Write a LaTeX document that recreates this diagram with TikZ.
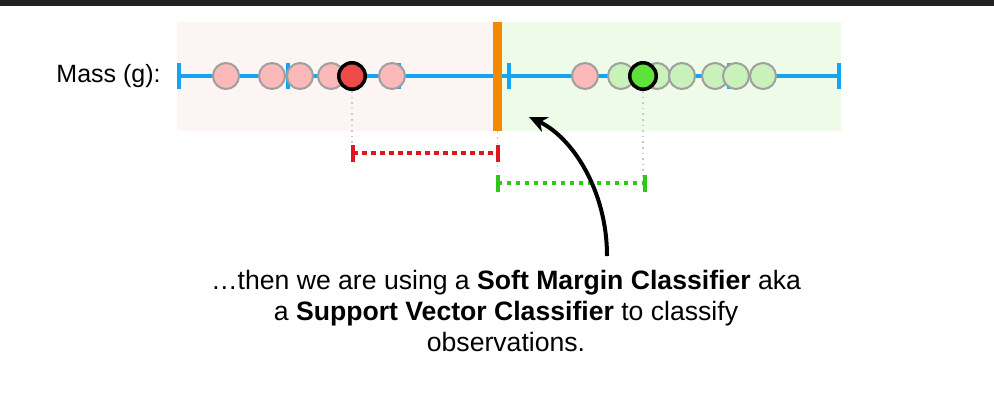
\documentclass[tikz,border=0pt]{standalone}
\usepackage{fontspec}
\setmainfont{Liberation Sans}
\usepackage{tikz}
\usetikzlibrary{arrows.meta, positioning}

\definecolor{topbar}{HTML}{222222}
\definecolor{bgpink}{HTML}{FDF4F4}
\definecolor{bggreen}{HTML}{EEFBE8}
\definecolor{axisblue}{HTML}{14A4F2}
\definecolor{barorange}{HTML}{F28A00}
\definecolor{dotpink}{HTML}{FBB9B9}
\definecolor{dotgreen}{HTML}{C9F1BA}
\definecolor{supred}{HTML}{EF4A4A}
\definecolor{supgreen}{HTML}{5EE23A}
\definecolor{marginred}{HTML}{DD1622}
\definecolor{margingreen}{HTML}{2EC71A}

\begin{document}
\begin{tikzpicture}[x=0.5pt, y=-0.5pt,
    obs/.style={circle, draw=gray!75, line width=1pt, minimum size=13pt, inner sep=0pt},
    pinkobs/.style={obs, fill=dotpink},
    greenobs/.style={obs, fill=dotgreen},
    supobs/.style={circle, draw=black, line width=1.75pt, minimum size=13.25pt, inner sep=0pt},
    axistick/.style={draw=axisblue, line width=1.7pt},
    guide/.style={draw=black!22, line width=0.8pt, dotted},
    margin/.style={line width=2pt, dash pattern=on 2.25pt off 2.25pt},
    marginend/.style={line width=2pt},
    callout/.style={-{Stealth[length=9pt, width=8pt]}, line width=2pt},
]
  \useasboundingbox (0,0) rectangle (994,413);
  \fill[topbar] (0,0) rectangle (994,6);

  % the two classes
  \fill[bgpink] (177,22) rectangle (497,131);
  \fill[bggreen] (497,22) rectangle (841,131);

  % number line
  \coordinate (lo) at (179,76);
  \coordinate (hi) at (839,76);
  \draw[axisblue, line width=1.8pt] (lo) -- (hi);
  \draw[axistick] (179,63) -- (179,89);
  \draw[axistick] (288,63) -- (288,89);
  \draw[axistick] (399,63) -- (399,89);
  \draw[axistick] (509,63) -- (509,89);
  \draw[axistick] (729,63) -- (729,89);
  \draw[axistick] (839,63) -- (839,89);

  \node[fill=barorange, minimum width=4.5pt, minimum height=54.5pt, inner sep=0pt] (thr) at (497.5,76.5) {};

  \node[pinkobs] (p1) at (226,76) {};
  \node[pinkobs] (p2) at (272,76) {};
  \node[pinkobs] (p3) at (300,76) {};
  \node[pinkobs] (p4) at (331,76) {};
  \node[pinkobs] (p5) at (392,76) {};
  \node[supobs, fill=supred] (rsup) at (352,76) {};

  \node[pinkobs] (p6) at (585,76) {};
  \node[greenobs] (g1) at (621,76) {};
  \node[greenobs] (g2) at (657,76) {};
  \node[greenobs] (g3) at (682,76) {};
  \node[greenobs] (g4) at (715,76) {};
  \node[greenobs] (g5) at (736,76) {};
  \node[greenobs] (g6) at (763,76) {};
  \node[supobs, fill=supgreen] (gsup) at (643,76) {};

  \node[font=\fontsize{12.5}{15}\selectfont, anchor=base east, inner sep=0pt] (mass) at (161,82) {Mass (g):};

  % margins
  \coordinate (rl) at (353,153);
  \coordinate (rr) at (497.5,153);
  \coordinate (gl) at (497.5,183);
  \coordinate (gr) at (645,183);

  \draw[guide] (rsup.south) -- (rsup.south |- rl);
  \draw[guide] (thr.south) -- (thr.south |- gl);
  \draw[guide] (gsup.south) -- (gsup.south |- gr);

  \draw[marginred, margin] (rl) -- (rr);
  \draw[marginred, marginend] ([shift={(0,-8.5)}]rl) -- ([shift={(0,8.5)}]rl);
  \draw[marginred, marginend] ([shift={(0,-8.5)}]rr) -- ([shift={(0,8.5)}]rr);
  \draw[margingreen, margin] (gl) -- (gr);
  \draw[margingreen, marginend] ([shift={(0,-8.5)}]gl) -- ([shift={(0,8.5)}]gl);
  \draw[margingreen, marginend] ([shift={(0,-8.5)}]gr) -- ([shift={(0,8.5)}]gr);

  \node[align=center, font=\fontsize{13.3}{15.5}\selectfont, inner sep=0pt] (note) at (506,311) {
    …then we are using a \textbf{Soft Margin Classifier} aka \\
    a \textbf{Support Vector Classifier} to classify \\
    observations.
  };

  \coordinate (tail) at (607,256);
  \coordinate (tip) at (529,117);
  \draw[callout] (tail) .. controls (607,190) and (572,137) .. (tip);
\end{tikzpicture}
\end{document}
